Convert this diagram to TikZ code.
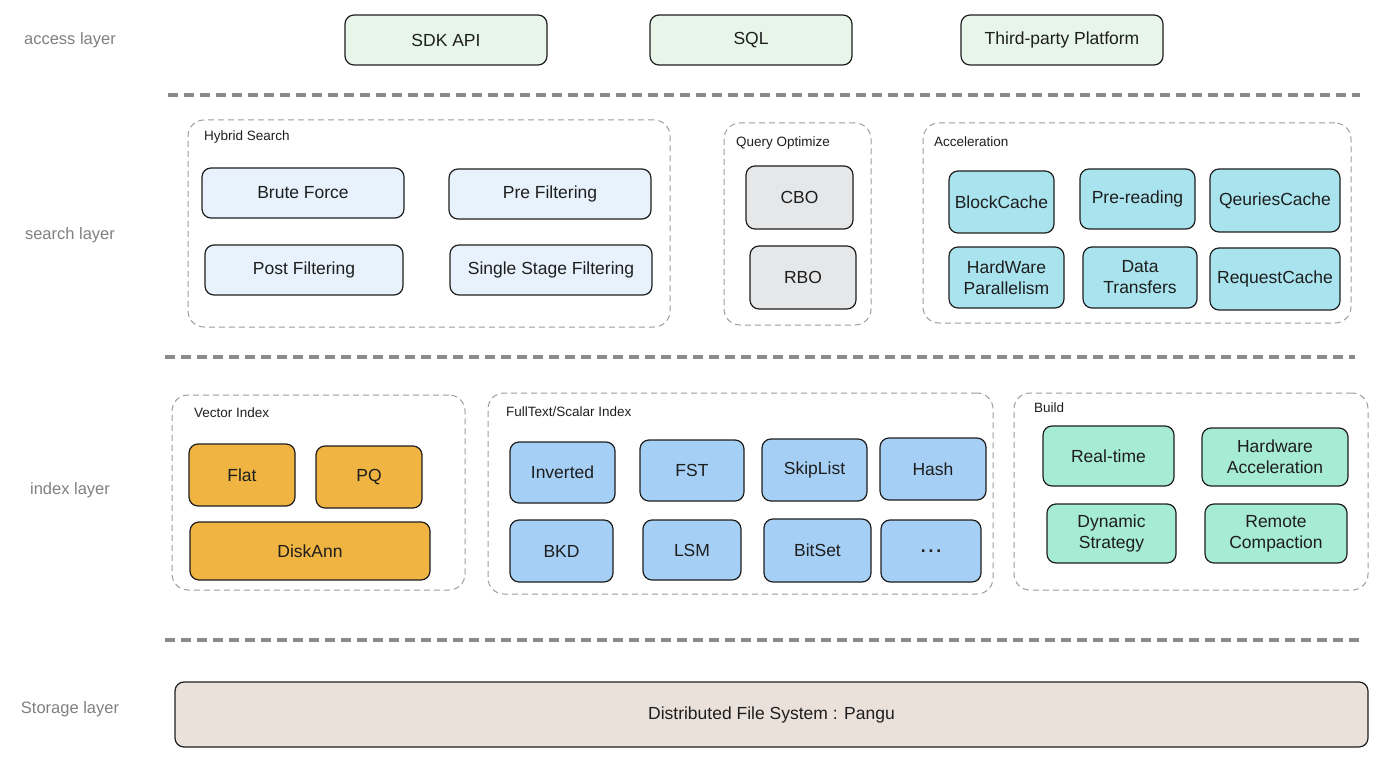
\documentclass[tikz,border=0pt]{standalone}
\usepackage{fontspec}
\setmainfont{Liberation Sans}
\usepackage{tikz}
\usetikzlibrary{positioning}

\definecolor{accgreen}{HTML}{E8F6E9}
\definecolor{hybblue}{HTML}{E7F2FC}
\definecolor{qogray}{HTML}{E6E7E9}
\definecolor{accelcyan}{HTML}{A9E4EE}
\definecolor{vecorange}{HTML}{EFB441}
\definecolor{ftsblue}{HTML}{A5CFF5}
\definecolor{bldmint}{HTML}{A6EBD4}
\definecolor{storebeige}{HTML}{EBE1DB}
\definecolor{inkdark}{HTML}{1E1E1E}
\definecolor{sepgray}{HTML}{8A8A8A}
\definecolor{labelgray}{HTML}{808080}

\begin{document}
\begin{tikzpicture}[
  x=1pt, y=-1pt,
  box/.style={rectangle, draw=inkdark, line width=1.2pt, rounded corners=9pt,
    align=center, inner sep=2pt, text=inkdark,
    font=\fontsize{17.5}{21}\selectfont},
  grp/.style={rectangle, draw=sepgray!85, dashed, dash pattern=on 6pt off 4pt,
    line width=1pt, rounded corners=16pt},
  grptitle/.style={anchor=west, inner sep=0pt, text=inkdark,
    font=\fontsize{13.5}{15}\selectfont},
  layer/.style={text=labelgray, font=\fontsize{16.5}{18}\selectfont},
  sep/.style={draw=sepgray, line width=3.5pt, dash pattern=on 10pt off 6pt},
]
\useasboundingbox (0,0) rectangle (1400,759);

% layer labels
\node[layer] (lacc) at (70,40) {access layer};
\node[layer] (lsrch) at (70,235) {search layer};
\node[layer] (lidx) at (70,490) {index layer};
\node[layer] (lsto) at (70,709) {Storage layer};

% access layer
\node[box, fill=accgreen, minimum width=202, minimum height=50] (sdk) at (446,40) {SDK API};
\node[box, fill=accgreen, minimum width=202, minimum height=50] (sql) at (751,40) {SQL};
\node[box, fill=accgreen, minimum width=202, minimum height=50] (third) at (1062,40) {Third-party Platform};

\draw[sep] (168,95) -- (1360,95);

% search layer
\node[grp, minimum width=482, minimum height=207] (hybrid) at (429,223.5) {};
\node[grptitle] (hybridT) at (204,137) {Hybrid Search};
\node[box, fill=hybblue, minimum width=202, minimum height=50] (brute) at (303,193) {Brute Force};
\node[box, fill=hybblue, minimum width=202, minimum height=50] (pre) at (550,194) {Pre Filtering};
\node[box, fill=hybblue, minimum width=198, minimum height=50] (post) at (304,270) {Post Filtering};
\node[box, fill=hybblue, minimum width=202, minimum height=50] (single) at (551,270) {Single Stage Filtering};

\node[grp, minimum width=147, minimum height=202] (qopt) at (797.5,224) {};
\node[grptitle] (qoptT) at (736,143) {Query Optimize};
\node[box, fill=qogray, minimum width=107, minimum height=63] (cbo) at (799.5,197.5) {CBO};
\node[box, fill=qogray, minimum width=106, minimum height=63] (rbo) at (803,277.5) {RBO};

\node[grp, minimum width=428, minimum height=200] (accel) at (1137,223) {};
\node[grptitle] (accelT) at (934,142) {Acceleration};
\node[box, fill=accelcyan, minimum width=105, minimum height=62] (blockc) at (1001.5,202) {BlockCache};
\node[box, fill=accelcyan, minimum width=115, minimum height=60] (preread) at (1137.5,199) {Pre-reading};
\node[box, fill=accelcyan, minimum width=130, minimum height=63] (qcache) at (1275,200.5) {QeuriesCache};
\node[box, fill=accelcyan, minimum width=115, minimum height=61] (hwpar) at (1006.5,277.5) {HardWare\\Parallelism};
\node[box, fill=accelcyan, minimum width=114, minimum height=61] (datatr) at (1140,277.5) {Data\\Transfers};
\node[box, fill=accelcyan, minimum width=130, minimum height=62] (reqc) at (1275,279) {RequestCache};

\draw[sep] (165,357) -- (1355,357);

% index layer
\node[grp, minimum width=293, minimum height=195] (vecidx) at (318.5,492.5) {};
\node[grptitle] (vecidxT) at (194,413) {Vector Index};
\node[box, fill=vecorange, minimum width=106, minimum height=62] (flat) at (242,475) {Flat};
\node[box, fill=vecorange, minimum width=106, minimum height=62] (pq) at (369,477) {PQ};
\node[box, fill=vecorange, minimum width=240, minimum height=58] (diskann) at (310,551) {DiskAnn};

\node[grp, minimum width=505, minimum height=201] (ftsidx) at (740.5,493.5) {};
\node[grptitle] (ftsidxT) at (506,412) {FullText/Scalar Index};
\node[box, fill=ftsblue, minimum width=105, minimum height=61] (inv) at (562.5,472.5) {Inverted};
\node[box, fill=ftsblue, minimum width=104, minimum height=61] (fst) at (692,470.5) {FST};
\node[box, fill=ftsblue, minimum width=105, minimum height=62] (skip) at (814.5,470) {SkipList};
\node[box, fill=ftsblue, minimum width=106, minimum height=62] (hash) at (933,469) {Hash};
\node[box, fill=ftsblue, minimum width=103, minimum height=62] (bkd) at (561.5,551) {BKD};
\node[box, fill=ftsblue, minimum width=98, minimum height=60] (lsm) at (692,550) {LSM};
\node[box, fill=ftsblue, minimum width=107, minimum height=63] (bitset) at (817.5,550.5) {BitSet};
\node[box, fill=ftsblue, minimum width=100, minimum height=62] (more) at (931,551) {\textbf{.\,.\,.}};

\node[grp, minimum width=354, minimum height=197] (build) at (1191,491.5) {};
\node[grptitle] (buildT) at (1034,408) {Build};
\node[box, fill=bldmint, minimum width=131, minimum height=60] (realt) at (1108.5,456) {Real-time};
\node[box, fill=bldmint, minimum width=146, minimum height=58] (hwacc) at (1275,457) {Hardware\\Acceleration};
\node[box, fill=bldmint, minimum width=129, minimum height=59] (dyn) at (1111.5,533.5) {Dynamic\\Strategy};
\node[box, fill=bldmint, minimum width=142, minimum height=59] (remote) at (1276,533.5) {Remote\\Compaction};

\draw[sep] (165,640) -- (1360,640);

% storage layer
\node[box, fill=storebeige, minimum width=1193, minimum height=65] (pangu) at (771.5,714.5) {Distributed File System : Pangu};
\end{tikzpicture}
\end{document}
